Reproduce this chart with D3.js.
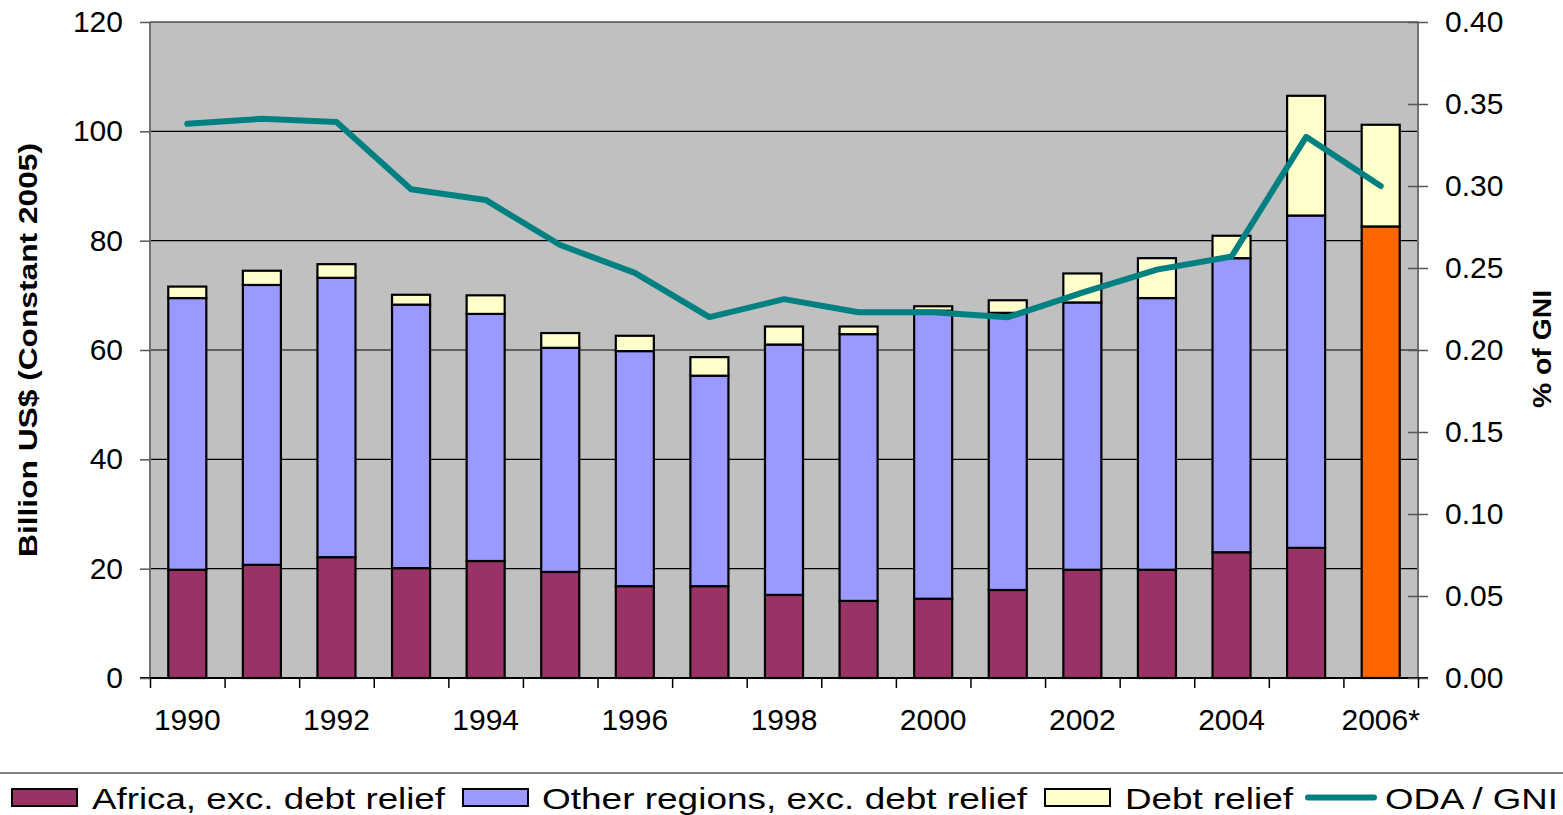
<!DOCTYPE html>
<html>
<head>
<meta charset="utf-8">
<script src="https://cdn.jsdelivr.net/npm/d3@7"></script>
<style>
  html, body { margin: 0; padding: 0; background: #ffffff; }
  svg { display: block; font-family: "Liberation Sans", Arial, sans-serif; }
</style>
</head>
<body>
<svg id="chart" width="1563" height="815"></svg>
<script>
// ---------- DATA ----------
const categories = ["1990","1991","1992","1993","1994","1995","1996","1997","1998","1999","2000","2001","2002","2003","2004","2005","2006*"];
const africa        = [19.8,20.7,22.1,20.1,21.4,19.4,16.8,16.8,15.2,14.1,14.5,16.1,19.8,19.8,23.0,23.8,null];
const otherRegions  = [49.7,51.2,51.1,48.2,45.2,41.0,43.0,38.5,45.8,48.8,52.7,50.7,48.9,49.7,53.8,60.8,null];
const totalExcDebt  = [null,null,null,null,null,null,null,null,null,null,null,null,null,null,null,null,82.6];
const debtRelief    = [2.1,2.6,2.5,1.8,3.4,2.7,2.8,3.4,3.3,1.4,0.8,2.3,5.3,7.3,4.1,21.9,18.6];
const odaGni        = [0.338,0.341,0.339,0.298,0.2915,0.264,0.247,0.220,0.231,0.223,0.223,0.220,0.235,0.249,0.257,0.330,0.300];
const leftTicks  = [0,20,40,60,80,100,120];
const rightTicks = [0,0.05,0.10,0.15,0.20,0.25,0.30,0.35,0.40];
const xLabels    = ["1990","1992","1994","1996","1998","2000","2002","2004","2006*"];
const legendItems = ["Africa, exc. debt relief","Other regions, exc. debt relief","Debt relief","ODA / GNI"];

// ---------- STYLE ----------
const colAfrica = "#993366", colOther = "#9999FF", colDebt = "#FFFFCC", colTotal = "#FF6600", colLine = "#008080";

const svg = d3.select("#chart");
const L = 150, R = 1418, T = 22, B = 678;

const x = d3.scaleBand().domain(categories).range([L, R]).paddingInner(0.49).paddingOuter(0.245);
const yL = d3.scaleLinear().domain([0, 120]).range([B, T]);
const yR = d3.scaleLinear().domain([0, 0.40]).range([B, T]);
const xIdx = d3.scaleLinear().domain([0, categories.length]).range([L, R]);

// plot background
svg.append("rect").attr("x", L).attr("y", T).attr("width", R - L).attr("height", B - T).attr("fill", "#C0C0C0");

// gridlines
svg.append("g").selectAll("line").data(leftTicks.filter(d => d > 0)).join("line")
  .attr("x1", L).attr("x2", R).attr("y1", d => yL(d)).attr("y2", d => yL(d))
  .attr("stroke", "#000").attr("stroke-width", 1.2);

// stacked segments
const segs = [];
categories.forEach((c, i) => {
  let base = 0;
  if (africa[i] != null) {
    segs.push({c, y0: 0, y1: africa[i], fill: colAfrica});
    segs.push({c, y0: africa[i], y1: africa[i] + otherRegions[i], fill: colOther});
    base = africa[i] + otherRegions[i];
  } else {
    segs.push({c, y0: 0, y1: totalExcDebt[i], fill: colTotal});
    base = totalExcDebt[i];
  }
  segs.push({c, y0: base, y1: base + debtRelief[i], fill: colDebt});
});
svg.append("g").selectAll("rect").data(segs).join("rect")
  .attr("x", d => x(d.c)).attr("width", x.bandwidth())
  .attr("y", d => yL(d.y1)).attr("height", d => yL(d.y0) - yL(d.y1))
  .attr("fill", d => d.fill).attr("stroke", "#000").attr("stroke-width", 2.2);

// axes lines
svg.append("line").attr("x1", L).attr("x2", L).attr("y1", T).attr("y2", B).attr("stroke", "#707070").attr("stroke-width", 2);
svg.append("line").attr("x1", R).attr("x2", R).attr("y1", T).attr("y2", B).attr("stroke", "#707070").attr("stroke-width", 2);
svg.append("line").attr("x1", L - 10).attr("x2", R + 10).attr("y1", B).attr("y2", B).attr("stroke", "#000").attr("stroke-width", 2);

// left axis
const gL = svg.append("g").attr("transform", `translate(${L},0)`)
  .call(d3.axisLeft(yL).tickValues(leftTicks).tickSize(10).tickPadding(17).tickFormat(d3.format("d")));
gL.select(".domain").remove();
gL.selectAll(".tick line").attr("stroke", "#555").attr("stroke-width", 1.5);
gL.selectAll(".tick text").attr("font-size", 30).attr("fill", "#000").attr("font-family", "Liberation Sans, Arial");

// right axis
const gR = svg.append("g").attr("transform", `translate(${R},0)`)
  .call(d3.axisRight(yR).tickValues(rightTicks).tickSizeInner(10).tickSizeOuter(0).tickPadding(17).tickFormat(d3.format(".2f")));
gR.select(".domain").remove();
gR.selectAll(".tick line").attr("x1", -10).attr("stroke", "#555").attr("stroke-width", 1.5);
gR.selectAll(".tick text").attr("font-size", 30).attr("fill", "#000").attr("font-family", "Liberation Sans, Arial");

// bottom ticks at category boundaries
const gB = svg.append("g").attr("transform", `translate(0,${B})`)
  .call(d3.axisBottom(xIdx).tickValues(d3.range(0, categories.length + 1)).tickSize(10).tickFormat(""));
gB.select(".domain").remove();
gB.selectAll(".tick line").attr("stroke", "#000").attr("stroke-width", 1.5);

// bottom labels
svg.append("g").selectAll("text").data(xLabels).join("text")
  .attr("x", d => x(d) + x.bandwidth() / 2).attr("y", 730)
  .attr("text-anchor", "middle").attr("font-size", 30).attr("fill", "#000")
  .text(d => d);

// ODA/GNI line
const line = d3.line().x((d, i) => x(categories[i]) + x.bandwidth() / 2).y(d => yR(d));
svg.append("path").datum(odaGni).attr("d", line)
  .attr("fill", "none").attr("stroke", colLine).attr("stroke-width", 6)
  .attr("stroke-linejoin", "round").attr("stroke-linecap", "round");

// axis titles
svg.append("text").attr("transform", "translate(37,350) rotate(-90)")
  .attr("text-anchor", "middle").attr("font-size", 26).attr("font-weight", "bold")
  .attr("textLength", 414).attr("lengthAdjust", "spacingAndGlyphs")
  .text("Billion US$ (Constant 2005)");
svg.append("text").attr("transform", "translate(1551,349) rotate(-90)")
  .attr("text-anchor", "middle").attr("font-size", 26).attr("font-weight", "bold")
  .attr("textLength", 118).attr("lengthAdjust", "spacingAndGlyphs")
  .text("% of GNI");

// legend
svg.append("line").attr("x1", 0).attr("x2", 1563).attr("y1", 773).attr("y2", 773).attr("stroke", "#808080").attr("stroke-width", 2);
const legend = [
  {label: legendItems[0], type: "rect", fill: colAfrica, sx: 12, tx: 92, tl: 353},
  {label: legendItems[1], type: "rect", fill: colOther, sx: 463, tx: 542, tl: 485},
  {label: legendItems[2], type: "rect", fill: colDebt, sx: 1045, tx: 1125, tl: 168},
  {label: legendItems[3], type: "line", fill: colLine, sx: 1308, tx: 1385, tl: 173}
];
const lg = svg.append("g");
legend.forEach(d => {
  if (d.type === "rect") {
    lg.append("rect").attr("x", d.sx).attr("y", 789).attr("width", 65).attr("height", 17)
      .attr("fill", d.fill).attr("stroke", "#000").attr("stroke-width", 2);
  } else {
    lg.append("line").attr("x1", d.sx).attr("x2", d.sx + 66).attr("y1", 797.5).attr("y2", 797.5)
      .attr("stroke", d.fill).attr("stroke-width", 6).attr("stroke-linecap", "round");
  }
  lg.append("text").attr("x", d.tx).attr("y", 809).attr("font-size", 30)
    .attr("textLength", d.tl).attr("lengthAdjust", "spacingAndGlyphs").text(d.label);
});
</script>
</body>
</html>
